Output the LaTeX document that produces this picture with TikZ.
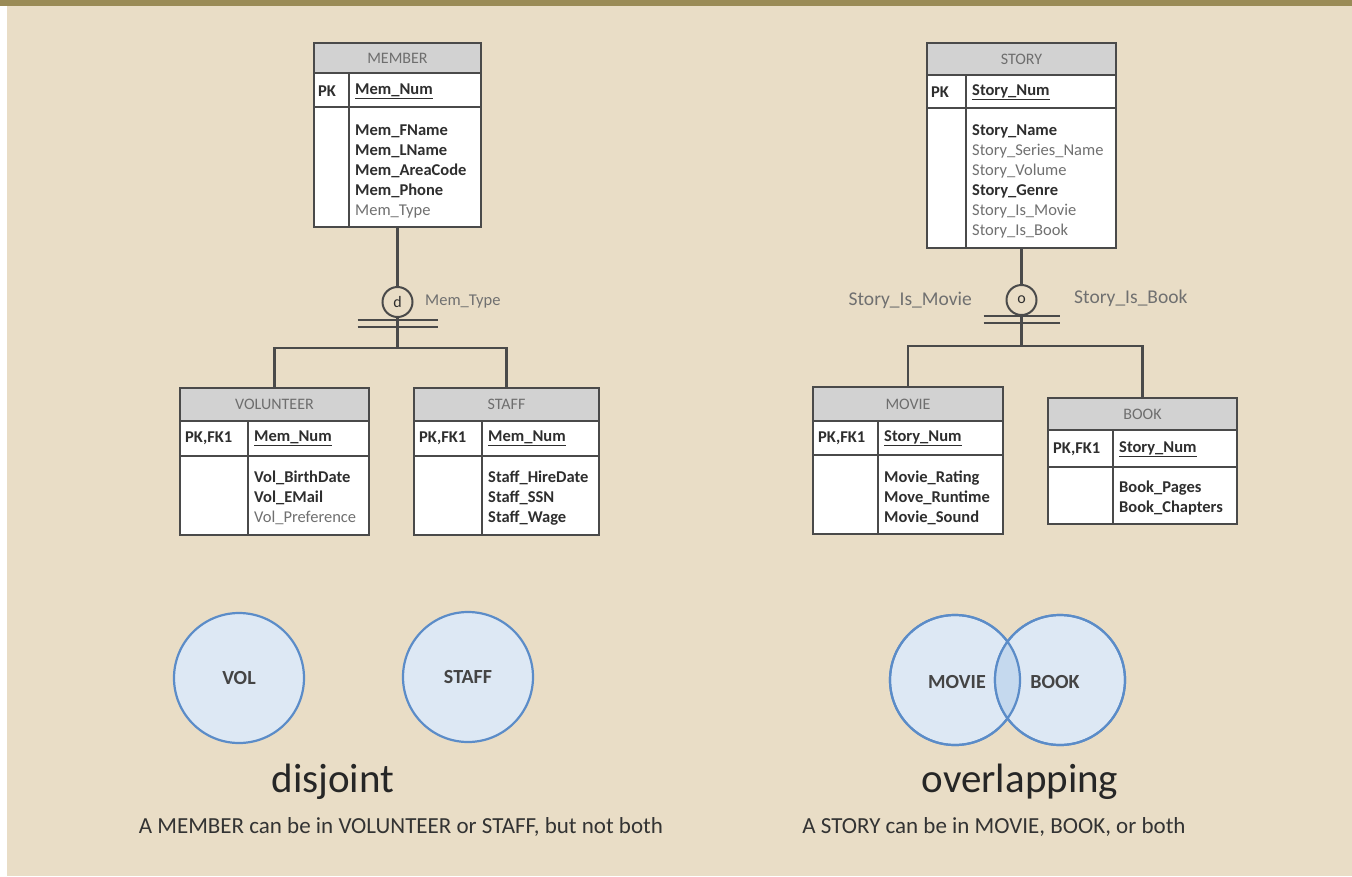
\documentclass[tikz,border=0pt]{standalone}
\usepackage{fontspec}
\setmainfont{Carlito}
\usepackage{tikz}
\usetikzlibrary{calc}

\definecolor{bgbeige}{HTML}{E9DDC6}
\definecolor{bandolive}{HTML}{9A8B56}
\definecolor{tblline}{HTML}{4A4A4A}
\definecolor{hdrgray}{HTML}{D2D2D2}
\definecolor{hdrtext}{HTML}{6E6E6E}
\definecolor{attrdark}{HTML}{2E2E2E}
\definecolor{attrgray}{HTML}{707070}
\definecolor{vennfill}{HTML}{DDE8F4}
\definecolor{vennlens}{HTML}{C5D9EE}
\definecolor{vennline}{HTML}{5B8CC8}
\definecolor{venntext}{HTML}{444444}

\begin{document}
\begin{tikzpicture}[x=1pt, y=-1pt,
            tbl/.style={draw=tblline, line width=2pt, fill=white, inner sep=0pt},
            hdr/.style={draw=tblline, line width=2pt, fill=hdrgray, inner sep=0pt, text=hdrtext, font=\fontsize{16}{18}\selectfont},
            tline/.style={draw=tblline, line width=2pt},
            key/.style={anchor=west, inner sep=0pt, text=attrdark, font=\bfseries\fontsize{16.5}{18}\selectfont},
            attr/.style={anchor=west, inner sep=0pt, align=left, text=attrdark, font=\fontsize{16.5}{20}\selectfont},
            conn/.style={draw=tblline, line width=2.4pt},
            cat/.style={circle, draw=tblline, line width=2pt, fill=bgbeige, minimum size=30pt, inner sep=0pt, text=attrdark, font=\fontsize{16}{16}\selectfont},
            catlbl/.style={inner sep=0pt, text=attrgray, font=\fontsize{19.5}{20}\selectfont},
            venn/.style={circle, draw=vennline, line width=2.2pt, fill=vennfill, minimum size=130pt, inner sep=0pt, text=venntext, font=\bfseries\fontsize{20}{20}\selectfont},
            title/.style={inner sep=0pt, text=black!85, font=\fontsize{41}{43}\selectfont},
            subtitle/.style={inner sep=0pt, text=black!80, font=\fontsize{23}{25}\selectfont}]
            \fill[bgbeige] (0,0) rectangle (1352,876);
            \fill[white] (0,0) rectangle (7,876);
            \fill[bandolive] (0,0) rectangle (1352,6);
            \useasboundingbox (0,0) rectangle (1352,876);

            \node[tbl, minimum width=167pt, minimum height=184pt] (member) at (397.5,135) {};
            \node[hdr, minimum width=167pt, minimum height=30pt, anchor=north] (memberh) at (member.north) {MEMBER};
            \draw[tline] (314,107) -- (481,107) (349,73) -- (349,227);
            \node[key] (memberk) at (318,91) {PK};
            \node[key] (memberp) at (355,91) {\underline{Mem\_Num}};
            \node[attr] (membera) at (355,171) {\textbf{Mem\_FName}\\\textbf{Mem\_LName}\\\textbf{Mem\_AreaCode}\\\textbf{Mem\_Phone}\\\textcolor{attrgray}{Mem\_Type}};

            \node[tbl, minimum width=189pt, minimum height=147pt] (vol) at (274.5,461.5) {};
            \node[hdr, minimum width=189pt, minimum height=33pt, anchor=north] (volh) at (vol.north) {VOLUNTEER};
            \draw[tline] (180,456) -- (369,456) (248,421) -- (248,535);
            \node[key] (volk) at (185,438) {PK,FK1};
            \node[key] (volp) at (254,438) {\underline{Mem\_Num}};
            \node[attr] (vola) at (254,498) {\textbf{Vol\_BirthDate}\\\textbf{Vol\_EMail}\\\textcolor{attrgray}{Vol\_Preference}};

            \node[tbl, minimum width=185pt, minimum height=147pt] (staff) at (506.5,461.5) {};
            \node[hdr, minimum width=185pt, minimum height=33pt, anchor=north] (staffh) at (staff.north) {STAFF};
            \draw[tline] (414,456) -- (599,456) (482,421) -- (482,535);
            \node[key] (staffk) at (419,438) {PK,FK1};
            \node[key] (staffp) at (488,438) {\underline{Mem\_Num}};
            \node[attr] (staffa) at (488,498) {\textbf{Staff\_HireDate}\\\textbf{Staff\_SSN}\\\textbf{Staff\_Wage}};

            \node[cat] (mdisc) at (397.5,302) {d};
            \node[catlbl, anchor=west, font=\fontsize{16.5}{17}\selectfont] (mdiscl) at (425,302) {Mem\_Type};
            \coordinate (mjoin) at (397.5,348);
            \draw[conn] (member.south) -- (mdisc.north);
            \draw[conn] (mdisc.south) -- (mjoin);
            \draw[conn] (vol.north) |- (mjoin) -| (staff.north);
            \draw[tline] ($(mdisc.south)+(-40,2)$) -- ++(80,0) ($(mdisc.south)+(-40,9)$) -- ++(80,0);

            \node[tbl, minimum width=189pt, minimum height=205pt] (story) at (1021.5,145.5) {};
            \node[hdr, minimum width=189pt, minimum height=32pt, anchor=north] (storyh) at (story.north) {STORY};
            \draw[tline] (927,108) -- (1116,108) (966,75) -- (966,248);
            \node[key] (storyk) at (931,92) {PK};
            \node[key] (storyp) at (972,92) {\underline{Story\_Num}};
            \node[attr] (storya) at (972,181) {\textbf{Story\_Name}\\\textcolor{attrgray}{Story\_Series\_Name}\\\textcolor{attrgray}{Story\_Volume}\\\textbf{Story\_Genre}\\\textcolor{attrgray}{Story\_Is\_Movie}\\\textcolor{attrgray}{Story\_Is\_Book}};

            \node[tbl, minimum width=190pt, minimum height=147pt] (movie) at (908,460.5) {};
            \node[hdr, minimum width=190pt, minimum height=34pt, anchor=north] (movieh) at (movie.north) {MOVIE};
            \draw[tline] (813,455) -- (1003,455) (878,421) -- (878,534);
            \node[key] (moviek) at (818,438) {PK,FK1};
            \node[key] (moviep) at (884,438) {\underline{Story\_Num}};
            \node[attr] (moviea) at (884,498) {\textbf{Movie\_Rating}\\\textbf{Move\_Runtime}\\\textbf{Movie\_Sound}};

            \node[tbl, minimum width=189pt, minimum height=126pt] (book) at (1142.5,461) {};
            \node[hdr, minimum width=189pt, minimum height=32pt, anchor=north] (bookh) at (book.north) {BOOK};
            \draw[tline] (1048,467) -- (1237,467) (1113,430) -- (1113,524);
            \node[key] (bookk) at (1053,449) {PK,FK1};
            \node[key] (bookp) at (1119,449) {\underline{Story\_Num}};
            \node[attr] (booka) at (1119,498) {\textbf{Book\_Pages}\\\textbf{Book\_Chapters}};

            \node[cat] (sover) at (1021.5,300) {o};
            \node[catlbl, anchor=east] (soverl) at (972,300) {Story\_Is\_Movie};
            \node[catlbl, anchor=west] (soverr) at (1074,298) {Story\_Is\_Book};
            \coordinate (sjoin) at (1021.5,346);
            \draw[conn] (story.south) -- (sover.north);
            \draw[conn] (sover.south) -- (sjoin);
            \draw[conn] (movie.north) |- (sjoin) -| (book.north);
            \draw[tline] ($(sover.south)+(-38,0)$) -- ++(76,0) ($(sover.south)+(-38,7)$) -- ++(76,0);

            \node[venn] (volc) at (239,678) {VOL};
            \node[venn] (staffc) at (468,677) {STAFF};
            \node[title] (disj) at (333,782) {disjoint};
            \node[subtitle] (disjs) at (401,827) {A MEMBER can be in VOLUNTEER or STAFF, but not both};

            \node[venn] (moviec) at (955,680) {};
            \node[venn] (bookc) at (1060,680) {};
            \begin{scope}
                \clip (moviec.center) circle[radius=65pt];
                \fill[vennlens] (bookc.center) circle[radius=65pt];
            \end{scope}
            \draw[vennline, line width=2.2pt] (moviec.center) circle[radius=65pt] (bookc.center) circle[radius=65pt];
            \node[venn, draw=none, fill=none] (moviet) at (957,682) {MOVIE};
            \node[venn, draw=none, fill=none] (bookt) at (1055,682) {BOOK};
            \node[title] (ovlp) at (1020,782) {overlapping};
            \node[subtitle] (ovlps) at (994,827) {A STORY can be in MOVIE, BOOK, or both};
        \end{tikzpicture}
\end{document}
